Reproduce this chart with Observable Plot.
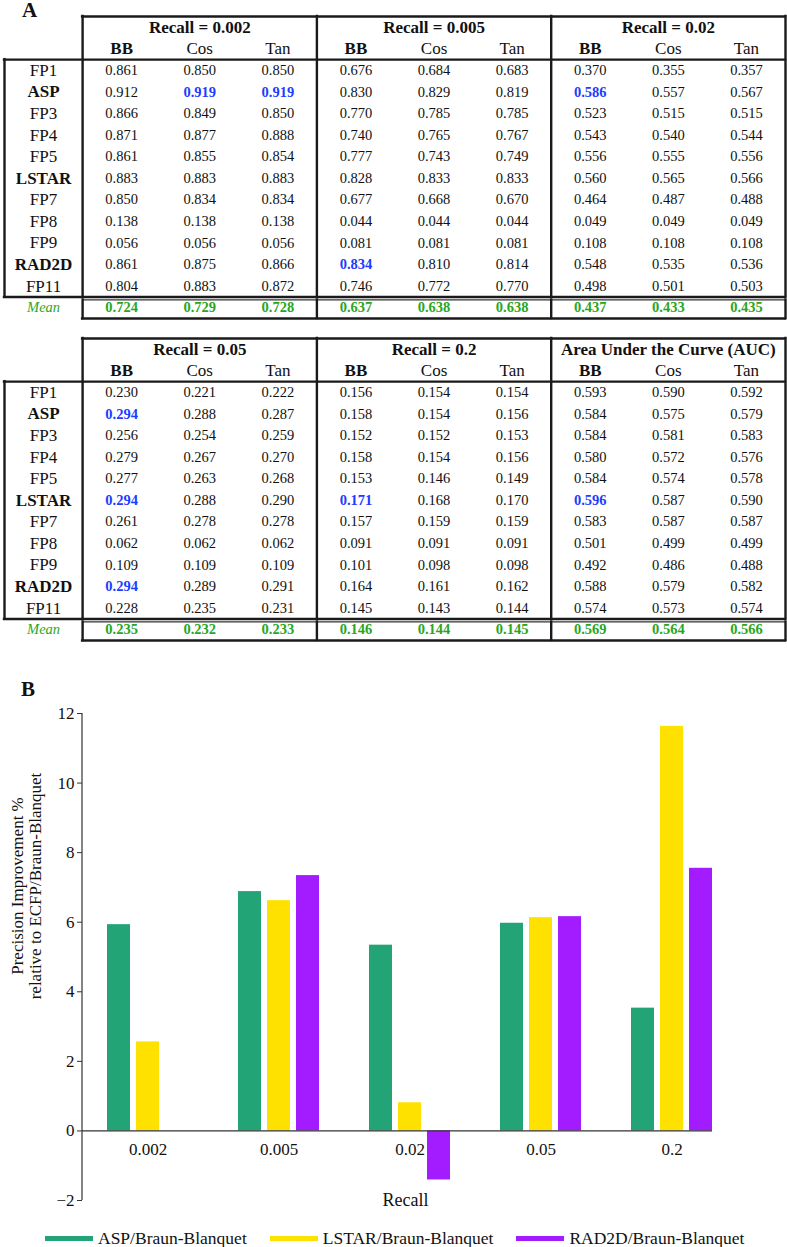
<!DOCTYPE html>
<html><head><meta charset="utf-8">
<script src="https://cdn.jsdelivr.net/npm/d3@7"></script>
<script src="https://cdn.jsdelivr.net/npm/@observablehq/plot@0.6"></script>
<style>
body{margin:0;background:#fff;width:787px;height:1247px;overflow:hidden;position:relative;font-family:"Liberation Serif",serif;color:#111;}
svg{display:block;}
.panel{position:absolute;font-weight:bold;font-size:21px;line-height:1;}
#legend{display:flex;align-items:center;padding-left:45px;margin-top:8px;height:20px;font-size:17.5px;line-height:20px;}
#legend .item{display:flex;align-items:center;margin-right:23px;}
#legend .sw{width:48px;height:5px;margin-right:5px;}
</style></head><body>
<div id="t1"></div><div id="t2"></div><div id="chart"></div><div id="legend"></div>
<div class="panel" style="left:22px;top:0px">A</div>
<div class="panel" style="left:21px;top:679px">B</div>
<script>
// ---------- data ----------
const rowLabels = ["FP1","ASP","FP3","FP4","FP5","LSTAR","FP7","FP8","FP9","RAD2D","FP11"];
const boldRows = ["ASP","LSTAR","RAD2D"];
const measures = ["BB","Cos","Tan"];
const groups1 = ["Recall = 0.002","Recall = 0.005","Recall = 0.02"];
const groups2 = ["Recall = 0.05","Recall = 0.2","Area Under the Curve (AUC)"];

const recall002 = [[0.861,0.850,0.850],[0.912,0.919,0.919],[0.866,0.849,0.850],[0.871,0.877,0.888],[0.861,0.855,0.854],[0.883,0.883,0.883],[0.850,0.834,0.834],[0.138,0.138,0.138],[0.056,0.056,0.056],[0.861,0.875,0.866],[0.804,0.883,0.872]];
const recall005 = [[0.676,0.684,0.683],[0.830,0.829,0.819],[0.770,0.785,0.785],[0.740,0.765,0.767],[0.777,0.743,0.749],[0.828,0.833,0.833],[0.677,0.668,0.670],[0.044,0.044,0.044],[0.081,0.081,0.081],[0.834,0.810,0.814],[0.746,0.772,0.770]];
const recall02 = [[0.370,0.355,0.357],[0.586,0.557,0.567],[0.523,0.515,0.515],[0.543,0.540,0.544],[0.556,0.555,0.556],[0.560,0.565,0.566],[0.464,0.487,0.488],[0.049,0.049,0.049],[0.108,0.108,0.108],[0.548,0.535,0.536],[0.498,0.501,0.503]];
const recall05 = [[0.230,0.221,0.222],[0.294,0.288,0.287],[0.256,0.254,0.259],[0.279,0.267,0.270],[0.277,0.263,0.268],[0.294,0.288,0.290],[0.261,0.278,0.278],[0.062,0.062,0.062],[0.109,0.109,0.109],[0.294,0.289,0.291],[0.228,0.235,0.231]];
const recall2 = [[0.156,0.154,0.154],[0.158,0.154,0.156],[0.152,0.152,0.153],[0.158,0.154,0.156],[0.153,0.146,0.149],[0.171,0.168,0.170],[0.157,0.159,0.159],[0.091,0.091,0.091],[0.101,0.098,0.098],[0.164,0.161,0.162],[0.145,0.143,0.144]];
const aucValues = [[0.593,0.590,0.592],[0.584,0.575,0.579],[0.584,0.581,0.583],[0.580,0.572,0.576],[0.584,0.574,0.578],[0.596,0.587,0.590],[0.583,0.587,0.587],[0.501,0.499,0.499],[0.492,0.486,0.488],[0.588,0.579,0.582],[0.574,0.573,0.574]];

const mean002 = [0.724,0.729,0.728];
const mean005 = [0.637,0.638,0.638];
const mean02 = [0.437,0.433,0.435];
const mean05 = [0.235,0.232,0.233];
const mean2 = [0.146,0.144,0.145];
const meanAuc = [0.569,0.564,0.566];

// best values shown in blue: [group, row, measure]
const highlights = [
  ["Recall = 0.002","ASP","Cos"],["Recall = 0.002","ASP","Tan"],
  ["Recall = 0.005","RAD2D","BB"],
  ["Recall = 0.02","ASP","BB"],
  ["Recall = 0.05","ASP","BB"],["Recall = 0.05","LSTAR","BB"],["Recall = 0.05","RAD2D","BB"],
  ["Recall = 0.2","LSTAR","BB"],
  ["Area Under the Curve (AUC)","LSTAR","BB"]
];

// bar chart data
const recallLevels = ["0.002","0.005","0.02","0.05","0.2"];
const seriesNames = ["ASP/Braun-Blanquet","LSTAR/Braun-Blanquet","RAD2D/Braun-Blanquet"];
const seriesColors = ["#23a476","#ffe100","#a31cff"];
const aspImprovement = [5.93, 6.88, 5.34, 5.97, 3.53];
const lstarImprovement = [2.56, 6.62, 0.81, 6.13, 11.63];
const rad2dImprovement = [0, 7.34, -1.41, 6.16, 7.55];
const yTicks = [-2, 0, 2, 4, 6, 8, 10, 12];

// ---------- tables ----------
const FONT = '"Liberation Serif", serif';
const BLUE = "#1c3cff", GREEN = "#2aa61e", INK = "#111";
const fmt = d3.format(".3f");

function makeTable(groups, values, means, height, marginTop, marginBottom) {
  const cells = [], meanCells = [], heads = [], subs = [];
  groups.forEach((g, gi) => {
    heads.push({x: 1 + gi * 3 + 1.5, y: 0.5, text: g});
    measures.forEach((m, mi) => {
      subs.push({x: 1 + gi * 3 + mi + 0.5, y: 1.5, text: m, bold: m === "BB"});
      rowLabels.forEach((r, ri) => {
        cells.push({x: 1 + gi * 3 + mi + 0.5, y: 2 + ri + 0.5, text: fmt(values[gi][ri][mi]),
          hi: highlights.some(h => h[0] === g && h[1] === r && h[2] === m)});
      });
      meanCells.push({x: 1 + gi * 3 + mi + 0.5, y: 2 + rowLabels.length + 0.5, text: fmt(means[gi][mi])});
    });
  });
  const labels = rowLabels.map((r, ri) => ({x: 0.5, y: 2 + ri + 0.5, text: r, bold: boldRows.includes(r)}));
  const nCols = 1 + groups.length * 3;
  const dataEnd = 2 + rowLabels.length, nRows = dataEnd + 1;
  const bounds = d3.range(groups.length + 1).map(i => 1 + 3 * i);
  const hLines = [{y: 0, x1: 1, x2: nCols}, {y: 2, x1: 0, x2: nCols}, {y: dataEnd, x1: 0, x2: nCols}];
  const vLines = [{x: 0, y1: 2, y2: dataEnd}, ...bounds.map(b => ({x: b, y1: 0, y2: dataEnd}))];
  const meanV = bounds.map(b => ({x: b, y1: dataEnd, y2: nRows}));
  const txt = (data, o) => Plot.text(data, {x: "x", y: "y", text: "text", fontFamily: FONT, ...o});
  return Plot.plot({
    width: 787, height, marginTop, marginBottom, marginLeft: 4, marginRight: 2,
    x: {domain: [0, nCols], axis: null},
    y: {domain: [0, nRows], reverse: true, axis: null},
    style: {fontFamily: FONT, background: "white"},
    marks: [
      txt(heads, {fontSize: 17, fontWeight: "bold", fill: INK}),
      txt(subs.filter(d => d.bold), {fontSize: 17, fontWeight: "bold", fill: INK}),
      txt(subs.filter(d => !d.bold), {fontSize: 17, fill: INK}),
      txt(labels.filter(d => d.bold), {fontSize: 17, fontWeight: "bold", fill: INK}),
      txt(labels.filter(d => !d.bold), {fontSize: 17, fill: INK}),
      txt(cells.filter(d => !d.hi), {fontSize: 14.5, fill: INK}),
      txt(cells.filter(d => d.hi), {fontSize: 14.5, fontWeight: "bold", fill: BLUE}),
      txt(meanCells, {fontSize: 14.5, fontWeight: "bold", fill: GREEN}),
      txt([{x: 0.5, y: dataEnd + 0.5, text: "Mean"}], {fontSize: 14.5, fontStyle: "italic", fill: GREEN}),
      Plot.ruleY(hLines, {y: "y", x1: "x1", x2: "x2", stroke: "#1a1a1a", strokeWidth: 2.4, strokeLinecap: "square"}),
      Plot.ruleX(vLines, {x: "x", y1: "y1", y2: "y2", stroke: "#1a1a1a", strokeWidth: 2.4, strokeLinecap: "square"}),
      Plot.ruleY([{y: dataEnd, x1: 1, x2: nCols}], {y: "y", x1: "x1", x2: "x2", dy: 3, stroke: "#333", strokeWidth: 1.2}),
      Plot.ruleY([{y: nRows, x1: 1, x2: nCols}], {y: "y", x1: "x1", x2: "x2", stroke: "#1a1a1a", strokeWidth: 2.4, strokeLinecap: "square"}),
      Plot.ruleX(meanV, {x: "x", y1: "y1", y2: "y2", insetTop: 3, stroke: "#1a1a1a", strokeWidth: 2.4, strokeLinecap: "square"})
    ]
  });
}

document.getElementById("t1").append(makeTable(groups1, [recall002, recall005, recall02], [mean002, mean005, mean02], 325, 16, 7));
document.getElementById("t2").append(makeTable(groups2, [recall05, recall2, aucValues], [mean05, mean2, meanAuc], 320, 13, 5));

// ---------- bar chart ----------
const improvements = [aspImprovement, lstarImprovement, rad2dImprovement];
const bars = [];
seriesNames.forEach((s, si) => recallLevels.forEach((r, ri) => bars.push({series: s, si, recall: r, value: improvements[si][ri]})));
const barW = 23, barGap = 6;
const chart = Plot.plot({
  width: 787, height: 575, marginTop: 68, marginBottom: 20, marginLeft: 82, marginRight: 75,
  style: {fontFamily: FONT, fontSize: "17px", background: "white", color: INK},
  x: {domain: recallLevels, paddingInner: 0.3817, paddingOuter: 0.0954, align: 1, axis: null},
  y: {domain: [-2, 12], axis: null},
  marks: [
    ...seriesNames.map((s, si) => Plot.barY(bars.filter(d => d.si === si), {
      x: "recall", y: "value", fill: seriesColors[si],
      insetLeft: si * (barW + barGap), insetRight: (2 - si) * (barW + barGap)
    })),
    Plot.ruleY([0], {stroke: "#333", strokeWidth: 1.2}),
    Plot.axisY(yTicks, {tickSize: 5, tickPadding: 3, fontSize: 17, fontFamily: FONT, label: null, stroke: "#333"}),
    Plot.text(recallLevels, {x: d => d, y: 0, dy: 19, fontSize: 17, fontFamily: FONT, fill: INK}),
    Plot.text(["Recall"], {frameAnchor: "bottom", lineAnchor: "middle", dx: 8, fontSize: 18, fontFamily: FONT, fill: INK}),
    Plot.text(["Precision Improvement %\nrelative to ECFP/Braun-Blanquet"], {
      frameAnchor: "left", textAnchor: "middle", lineAnchor: "middle", rotate: -90, dx: -56, dy: -71,
      fontSize: 17, lineHeight: 1.06, fontFamily: FONT, fill: INK
    })
  ]
});
// y-axis domain line drawn from the chart's own scales
{
  const xs = chart.scale("x"), ys = chart.scale("y");
  const x0 = xs.range[0];
  d3.select(chart).append("line")
    .attr("x1", x0).attr("x2", x0)
    .attr("y1", ys.apply(yTicks[yTicks.length - 1])).attr("y2", ys.apply(yTicks[0]))
    .attr("stroke", "#333").attr("stroke-width", 1.2);
}
document.getElementById("chart").append(chart);

// legend
const legend = d3.select("#legend");
seriesNames.forEach((s, i) => {
  const item = legend.append("div").attr("class", "item");
  item.append("div").attr("class", "sw").style("background", seriesColors[i]);
  item.append("span").text(s);
});
</script>
</body></html>
